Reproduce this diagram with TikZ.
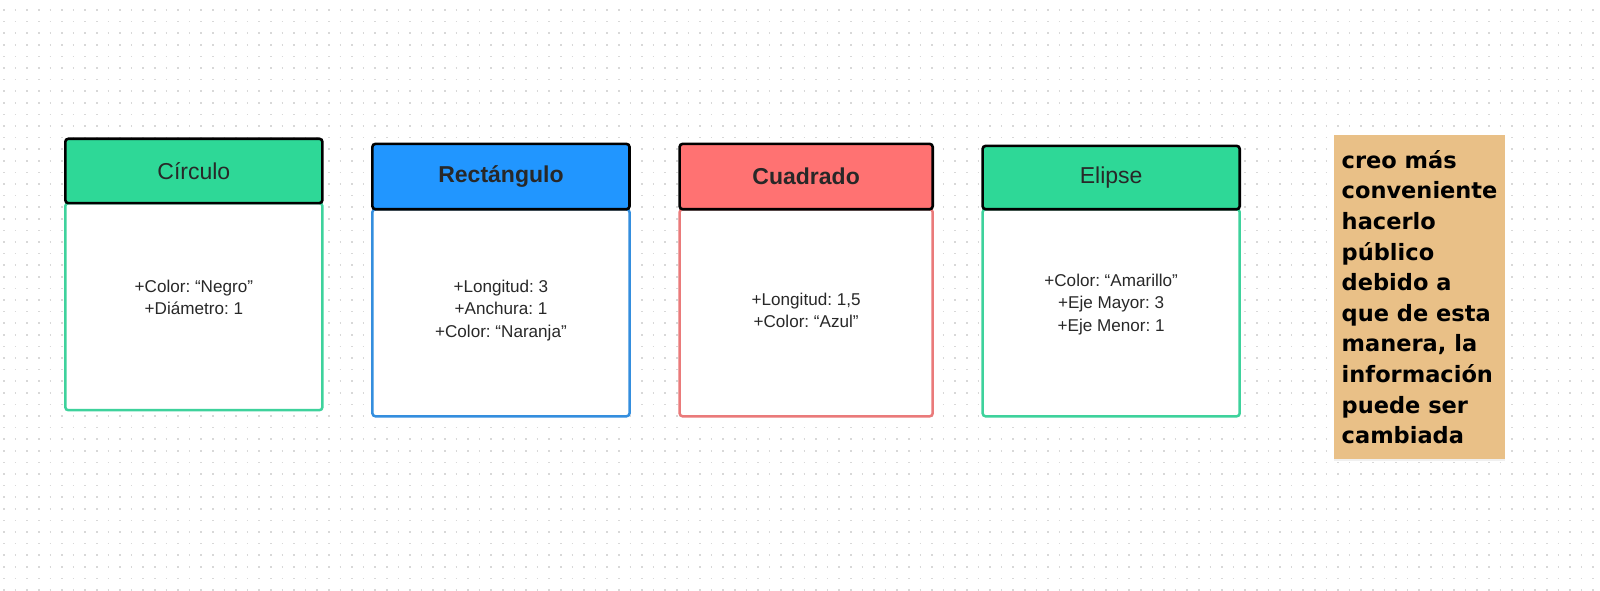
\documentclass[tikz,border=0pt]{standalone}
\usepackage{fontspec}
\setmainfont{Liberation Sans}
\newfontfamily\notefont{DejaVu Sans}
\usetikzlibrary{shadows}
\frenchspacing

\definecolor{headgreen}{RGB}{46,216,151}
\definecolor{linegreen}{RGB}{62,210,156}
\definecolor{headblue}{RGB}{33,150,255}
\definecolor{lineblue}{RGB}{52,142,222}
\definecolor{headred}{RGB}{255,114,114}
\definecolor{linered}{RGB}{234,122,122}
\definecolor{notefill}{RGB}{233,192,135}
\definecolor{griddots}{RGB}{216,216,216}
\definecolor{inktext}{RGB}{40,40,40}

\tikzset{
  classhead/.style={draw=black, fill=#1, line width=2.6pt, rounded corners=3pt,
    anchor=north west, inner sep=0pt, outer sep=0pt,
    font=\fontsize{23}{27}\selectfont, text=inktext},
  classbody/.style={draw=#1, fill=white, line width=2.5pt, rounded corners=3pt,
    anchor=north west, inner sep=0pt, outer sep=0pt, align=center,
    font=\fontsize{17.1}{22.5}\selectfont, text=inktext},
  boldhead/.style={font=\bfseries\fontsize{23}{27}\selectfont},
  notebox/.style={fill=notefill, anchor=north west, inner sep=0pt,
    minimum width=171.4pt, minimum height=324.5pt,
    drop shadow={opacity=0.12, shadow xshift=0pt, shadow yshift=-2pt},
    align=left, font=\notefont\bfseries\fontsize{22.5}{30.6}\selectfont},
  griddot/.style={griddots, line width=1.6pt, dash pattern=on 1.6pt off 10pt}
}

\begin{document}
\begin{tikzpicture}[x=1pt,y=-1pt]
    \useasboundingbox (0,0) rectangle (1600,591);
    % dotted canvas
    \foreach \r in {0,...,50}
        \draw[griddot] (3.2,10+\r*11.6) -- (1600,10+\r*11.6);

    % Circulo
    \node[classbody=linegreen, minimum width=257.1pt, minimum height=207.1pt] (circBody) at (65.3,203.1)
        {+Color: “Negro”\\+Diámetro: 1\\[-4pt]};
    \node[classhead=headgreen, minimum width=257.1pt, minimum height=64.3pt] (circHead) at (65.3,138.8) {Círculo};

    % Rectangulo
    \node[classbody=lineblue, minimum width=257.1pt, minimum height=207.1pt] (rectBody) at (372.4,209.2)
        {+Longitud: 3\\+Anchura: 1\\+Color: “Naranja”\\[-14.3pt]};
    \node[classhead=headblue, boldhead, minimum width=257.1pt, minimum height=65.3pt] (rectHead) at (372.4,143.9) {Rectángulo};

    % Cuadrado
    \node[classbody=linered, minimum width=253.1pt, minimum height=207.1pt] (cuadBody) at (679.6,209.2)
        {+Longitud: 1,5\\+Color: “Azul”\\[-17.5pt]};
    \node[classhead=headred, boldhead, minimum width=253.1pt, minimum height=65.3pt] (cuadHead) at (679.6,143.9) {Cuadrado};

    % Elipse
    \node[classbody=linegreen, minimum width=257.1pt, minimum height=207.1pt] (elipBody) at (982.6,209.2)
        {+Color: “Amarillo”\\+Eje Mayor: 3\\+Eje Menor: 1\\[-2pt]};
    \node[classhead=headgreen, minimum width=257.1pt, minimum height=63.3pt] (elipHead) at (982.6,145.9) {Elipse};

    % nota
    \node[notebox] (nota) at (1333.7,134.7)
        {creo más\\conveniente\\hacerlo\\público\\debido a\\que de esta\\manera, la\\información\\puede ser\\cambiada};
\end{tikzpicture}
\end{document}
